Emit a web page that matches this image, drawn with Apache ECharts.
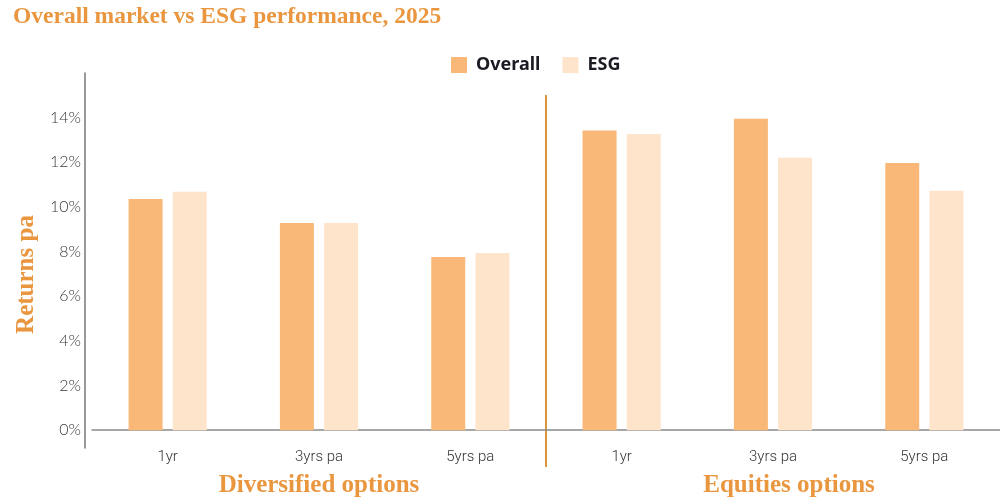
<!DOCTYPE html>
<html>
<head>
<meta charset="utf-8">
<script src="https://cdn.jsdelivr.net/npm/echarts@6/dist/echarts.min.js"></script>
<style>
  html, body { margin: 0; padding: 0; background: #fff; }
  #main { width: 1000px; height: 502px; }
</style>
</head>
<body>
<div id="main"></div>
<script>
// data
const periods = ['1yr', '3yrs pa', '5yrs pa', '1yr', '3yrs pa', '5yrs pa'];
const groups = ['Diversified options', 'Equities options'];
const overall = [10.35, 9.28, 7.76, 13.42, 13.95, 11.97];
const esg = [10.68, 9.28, 7.94, 13.27, 12.2, 10.72];
const yTicks = [0, 2, 4, 6, 8, 10, 12, 14];

const ORANGE = '#E9963F';
const SERIF = '"Liberation Serif", serif';

let chart = echarts.init(document.getElementById('main'));

let option = {
  title: {
    text: 'Overall market vs ESG performance, 2025',
    left: 8,
    top: 0,
    textStyle: {
      fontFamily: SERIF,
      fontWeight: 'bold',
      fontSize: 23.5,
      color: ORANGE
    }
  },
  legend: {
    left: 446,
    top: 51,
    icon: 'rect',
    itemWidth: 16,
    itemHeight: 16,
    itemGap: 22,
    textStyle: {
      fontFamily: '"Noto Sans", sans-serif',
      fontWeight: 'bold',
      fontSize: 18,
      color: '#1b1b24',
      padding: [0, 0, 0, 4]
    },
    data: ['Overall', 'ESG']
  },
  grid: {
    left: 92,
    right: 0,
    top: 73,
    bottom: 54
  },
  xAxis: [{
      type: 'category',
      data: periods,
      axisLine: {
        onZero: true,
        lineStyle: { color: '#8a8a8a', width: 1.5 }
      },
      axisTick: { show: false },
      axisLabel: {
        margin: 2,
        fontFamily: 'Roboto, sans-serif',
        fontWeight: 300,
        fontSize: 15,
        color: '#333'
      }
    },
    {
      type: 'category',
      position: 'bottom',
      data: groups,
      offset: 17,
      axisLine: { show: false, onZero: false },
      axisTick: { show: false },
      axisLabel: {
        margin: 8,
        fontFamily: SERIF,
        fontWeight: 'bold',
        fontSize: 25,
        color: ORANGE,
        // second group title sits a little right of its band centre
        formatter: function (v, i) {
          return i === 1 ? '{r|' + v + '}' : '{l|' + v + '}';
        },
        rich: {
          l: { fontFamily: SERIF, fontWeight: 'bold', fontSize: 25, color: ORANGE },
          r: { fontFamily: SERIF, fontWeight: 'bold', fontSize: 25, color: ORANGE, padding: [0, 0, 0, 32] }
        }
      }
    }
  ],
  yAxis: {
    type: 'value',
    min: -0.8,
    max: 16,
    offset: 7,
    name: 'Returns pa',
    nameLocation: 'middle',
    nameGap: 46,
    nameTextStyle: {
      fontFamily: SERIF,
      fontWeight: 'bold',
      fontSize: 25,
      color: ORANGE,
      padding: [0, 28, 0, 0]
    },
    axisLine: {
      show: true,
      lineStyle: { color: '#777', width: 1.5 }
    },
    axisTick: { show: false },
    splitLine: { show: false },
    axisLabel: {
      customValues: yTicks,
      margin: 4,
      fontFamily: 'Lato, sans-serif',
      fontWeight: 300,
      fontSize: 16,
      color: '#3a3a3a',
      formatter: function (v) {
        return v + '%';
      }
    }
  },
  series: [{
      name: 'Overall',
      type: 'bar',
      data: overall,
      barWidth: 34,
      barGap: '30%',
      itemStyle: { color: '#FAB878' }
    },
    {
      name: 'ESG',
      type: 'bar',
      data: esg,
      barWidth: 34,
      itemStyle: { color: '#FEE4CB' }
    }
  ]
};
chart.setOption(option);

// vertical divider between the two option groups
let x1 = chart.convertToPixel({ xAxisIndex: 0 }, 2);
let x2 = chart.convertToPixel({ xAxisIndex: 0 }, 3);
let divX = (x1 + x2) / 2;
chart.setOption({
  graphic: [{
    type: 'line',
    shape: { x1: divX, y1: 95, x2: divX, y2: 467 },
    style: { stroke: '#D9963A', lineWidth: 2 }
  }]
});
</script>
</body>
</html>
